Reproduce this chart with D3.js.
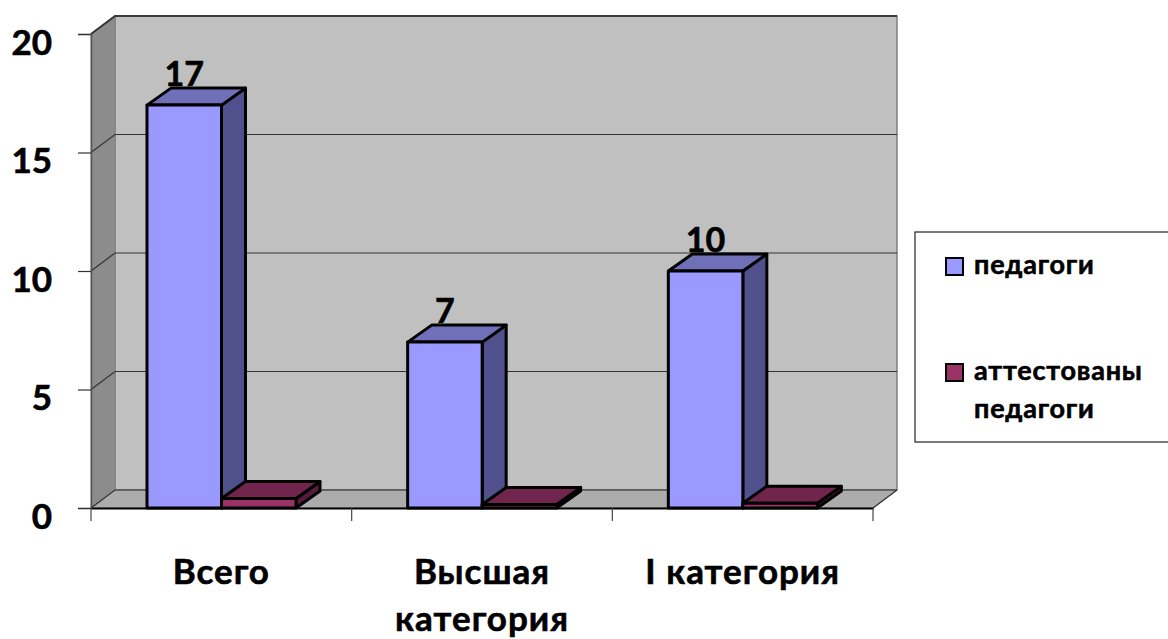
<!DOCTYPE html>
<html>
<head>
<meta charset="utf-8">
<script src="https://cdn.jsdelivr.net/npm/d3@7"></script>
<style>
  html, body { margin: 0; padding: 0; background: #fff; }
  svg { display: block; }
  text { font-family: Lato, "Open Sans", sans-serif; font-weight: 700; fill: #000; stroke: #000; stroke-width: 0.6px; }
</style>
</head>
<body>
<svg width="1168" height="639"></svg>
<script>
const categories = ['Всего', 'Высшая категория', 'I категория'];
const seriesNames = ['педагоги', 'аттестованы педагоги'];
const teachers = [17, 7, 10];
const certified = [0.4, 0.15, 0.2];
const yTicks = [0, 5, 10, 15, 20];

const seriesFill = [
  { front: '#9999ff', top: '#7070b8', side: '#50508c' },
  { front: '#993366', top: '#72254c', side: '#571c3b' }
];

const svg = d3.select('svg');

// front plane of the 3d box, depth is the shift to the back wall
const depthX = 24, depthY = -18;
const barDepthX = 24, barDepthY = -17;
const xScale = d3.scaleBand().domain(categories).range([91, 873]);
const yScale = d3.scaleLinear().domain([0, 20]).range([508, 34]);
const inner = d3.scaleBand().domain([0, 1]).range([56, 205]);

const x0 = xScale.range()[0], x1 = xScale.range()[1];
const y0 = yScale(0), y1 = yScale(20);

// walls
svg.append('polygon').attr('fill', '#c0c0c0').attr('stroke', '#808080').attr('stroke-width', 1.5)
  .attr('points', [[x0 + depthX, y1 + depthY], [x1 + depthX, y1 + depthY], [x1 + depthX, y0 + depthY], [x0 + depthX, y0 + depthY]].join(' '));
svg.append('polygon').attr('fill', '#8c8c8c').attr('stroke', '#808080').attr('stroke-width', 1)
  .attr('points', [[x0, y1], [x0 + depthX, y1 + depthY], [x0 + depthX, y0 + depthY], [x0, y0]].join(' '));
svg.append('polygon').attr('fill', '#acacac').attr('stroke', '#808080').attr('stroke-width', 1)
  .attr('points', [[x0, y0], [x0 + depthX, y0 + depthY], [x1 + depthX, y0 + depthY], [x1, y0]].join(' '));
svg.append('path').attr('fill', 'none').attr('stroke', '#444').attr('stroke-width', 2)
  .attr('d', `M${x0},${y1}L${x0 + depthX},${y1 + depthY}H${x1 + depthX}`);

// gridlines go along the side wall and the back wall
svg.selectAll('.grid').data(yTicks).enter().append('path')
  .classed('grid', true)
  .attr('fill', 'none')
  .attr('stroke', '#333')
  .attr('stroke-width', 1.2)
  .attr('d', d => `M${x0},${yScale(d)}L${x0 + depthX},${yScale(d) + depthY}H${x1 + depthX}`);
svg.append('path').attr('fill', 'none').attr('stroke', '#333').attr('stroke-width', 1.2)
  .attr('d', `M${x1},${y0}L${x1 + depthX},${y0 + depthY}`);

// y axis
const yAxis = d3.axisLeft(yScale).tickValues(yTicks).tickSize(13).tickPadding(26);
const yG = svg.append('g').attr('transform', `translate(${x0},0)`).call(yAxis);
yG.select('.domain').attr('stroke', '#555').attr('stroke-width', 1.5);
yG.selectAll('.tick line').attr('stroke', '#333').attr('stroke-width', 1.2);
yG.selectAll('.tick text')
  .style('font-size', '35px')
  .style('font-family', 'Lato, "Open Sans", sans-serif')
  .attr('dy', '0.58em');

// x axis, ticks sit between the categories
const xAxis = d3.axisBottom(xScale).tickSize(0).tickFormat('');
const xG = svg.append('g').attr('transform', `translate(0,${y0})`).call(xAxis);
xG.select('.domain').attr('stroke', '#000').attr('stroke-width', 2);
const boundaries = categories.map((c, i) => x0 + i * xScale.step()).concat([x1]);
xG.selectAll('.bound').data(boundaries).enter().append('line')
  .classed('bound', true)
  .attr('x1', d => d).attr('x2', d => d)
  .attr('y1', 0).attr('y2', 13)
  .attr('stroke', '#444').attr('stroke-width', 1.2);

const xLabelLines = [['Всего'], ['Высшая', 'категория'], ['I категория']];
const xLabel = svg.selectAll('.xlabel').data(categories).enter().append('text')
  .classed('xlabel', true)
  .attr('text-anchor', 'middle')
  .style('font-size', '35px')
  .style('letter-spacing', '1px');
xLabel.selectAll('tspan').data((d, i) => xLabelLines[i].map(t => ({ t, c: d }))).enter().append('tspan')
  .attr('x', d => xScale(d.c) + xScale.bandwidth() / 2)
  .attr('y', (d, i) => 584 + i * 47)
  .text(d => d.t);

// bars, back to front inside each category
function drawBars(values, s) {
  const g = svg.append('g').selectAll('g').data(values).enter().append('g');
  const left = (d, i) => xScale(categories[i]) + inner(s);
  const w = inner.bandwidth();
  const common = sel => sel.attr('stroke', '#000').attr('stroke-width', 3).attr('stroke-linejoin', 'round');
  g.append('polygon').call(common).attr('fill', seriesFill[s].side)
    .attr('points', (d, i) => {
      const r = left(d, i) + w;
      return [[r, yScale(d)], [r + barDepthX, yScale(d) + barDepthY], [r + barDepthX, y0 + barDepthY], [r, y0]].join(' ');
    });
  g.append('polygon').call(common).attr('fill', seriesFill[s].top)
    .attr('points', (d, i) => {
      const l = left(d, i);
      return [[l, yScale(d)], [l + barDepthX, yScale(d) + barDepthY], [l + w + barDepthX, yScale(d) + barDepthY], [l + w, yScale(d)]].join(' ');
    });
  g.append('rect').call(common).attr('fill', seriesFill[s].front)
    .attr('x', (d, i) => left(d, i))
    .attr('y', d => yScale(d))
    .attr('width', w)
    .attr('height', d => y0 - yScale(d));
}
drawBars(teachers, 0);
drawBars(certified, 1);

// value labels sit just above the bar tops
svg.selectAll('.value').data(teachers).enter().append('text')
  .classed('value', true)
  .attr('text-anchor', 'middle')
  .style('font-size', '34px')
  .attr('x', (d, i) => xScale(categories[i]) + inner(0) + inner.bandwidth() / 2)
  .attr('y', d => yScale(d) + barDepthY - 2)
  .text(d => d);

// legend, its right side runs off the page
svg.append('rect').attr('x', 915).attr('y', 232).attr('width', 270).attr('height', 210)
  .attr('fill', '#fff').attr('stroke', '#222').attr('stroke-width', 1.2);
const legendY = d3.scalePoint().domain(seriesNames).range([266, 372]);
const legendLines = [['педагоги'], ['аттестованы', 'педагоги']];
const legend = svg.selectAll('.legend').data(seriesNames).enter().append('g').classed('legend', true);
legend.append('rect')
  .attr('x', 946).attr('y', d => legendY(d) - 8)
  .attr('width', 17).attr('height', 17)
  .attr('fill', (d, i) => seriesFill[i].front)
  .attr('stroke', '#000').attr('stroke-width', 2);
legend.append('text').style('font-size', '27px').style('letter-spacing', '0.8px')
  .selectAll('tspan').data(d => legendLines[seriesNames.indexOf(d)].map(t => ({ t, s: d }))).enter().append('tspan')
  .attr('x', 974)
  .attr('y', (d, i) => legendY(d.s) + 8 + i * 38)
  .text(d => d.t);
</script>
</body>
</html>
